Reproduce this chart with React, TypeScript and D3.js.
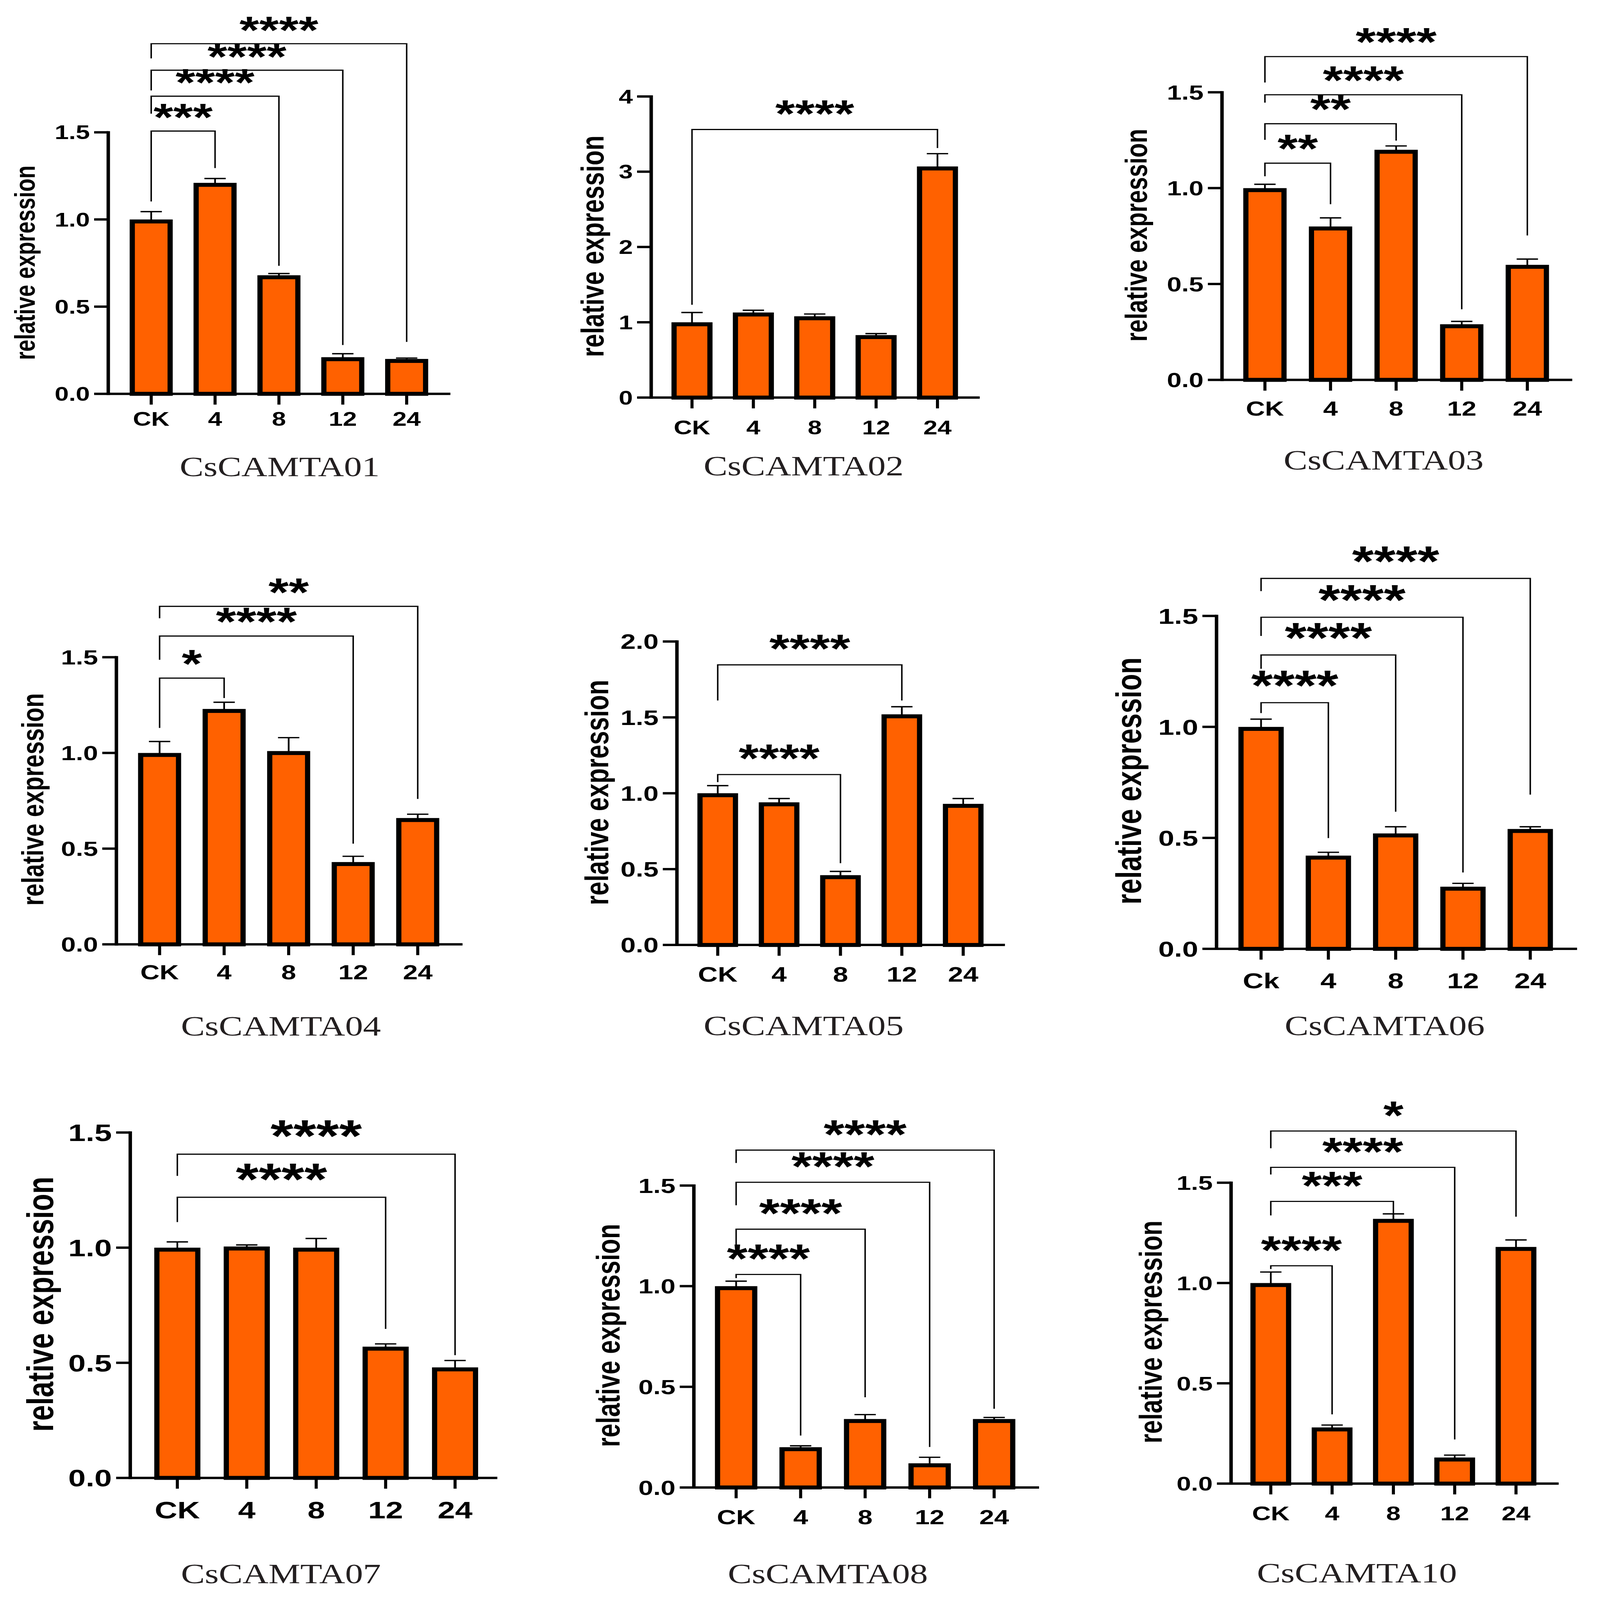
import React from 'react';
import * as d3 from 'd3';

// ---------------- DATA ----------------
const categories = ['CK', '4', '8', '12', '24'];
const categories06 = ['Ck', '4', '8', '12', '24'];

const values01 = [1.0, 1.21, 0.68, 0.21, 0.2];
const errors01 = [0.045, 0.025, 0.01, 0.02, 0.005];
const values02 = [1.0, 1.13, 1.08, 0.83, 3.07];
const errors02 = [0.13, 0.03, 0.03, 0.02, 0.17];
const values03 = [1.0, 0.8, 1.2, 0.29, 0.6];
const errors03 = [0.02, 0.045, 0.02, 0.015, 0.03];
const values04 = [1.0, 1.23, 1.01, 0.43, 0.66];
const errors04 = [0.06, 0.035, 0.07, 0.03, 0.02];
const values05 = [1.0, 0.94, 0.46, 1.52, 0.93];
const errors05 = [0.05, 0.025, 0.025, 0.05, 0.035];
const values06 = [1.0, 0.42, 0.52, 0.28, 0.54];
const errors06 = [0.035, 0.015, 0.03, 0.015, 0.01];
const values07 = [1.0, 1.005, 1.0, 0.57, 0.48];
const errors07 = [0.025, 0.007, 0.04, 0.012, 0.03];
const values08 = [1.0, 0.2, 0.34, 0.12, 0.34];
const errors08 = [0.025, 0.007, 0.022, 0.03, 0.008];
const values10 = [1.0, 0.28, 1.32, 0.13, 1.18];
const errors10 = [0.055, 0.012, 0.025, 0.012, 0.035];

const ticks15 = [0, 0.5, 1.0, 1.5];
const ticks4 = [0, 1, 2, 3, 4];
const ticks20 = [0, 0.5, 1.0, 1.5, 2.0];

// significance comparisons: CK vs target index, with label
const sigTargets01 = [1, 2, 3, 4];
const sigLabels01 = ['***', '****', '****', '****'];
const sigTargets02 = [4];
const sigLabels02 = ['****'];
const sigTargets03 = [1, 2, 3, 4];
const sigLabels03 = ['**', '**', '****', '****'];
const sigTargets04 = [1, 3, 4];
const sigLabels04 = ['*', '****', '**'];
const sigTargets05 = [2, 3];
const sigLabels05 = ['****', '****'];
const sigTargets06 = [1, 2, 3, 4];
const sigLabels06 = ['****', '****', '****', '****'];
const sigTargets07 = [3, 4];
const sigLabels07 = ['****', '****'];
const sigTargets08 = [1, 2, 3, 4];
const sigLabels08 = ['****', '****', '****', '****'];
const sigTargets10 = [1, 2, 3, 4];
const sigLabels10 = ['****', '***', '****', '*'];

const yLabel = 'relative expression';

// ---------------- LAYOUT (view units; 1200 units = page width) ----------------
const W = 4388;
const H = 5745;
const VW = 1200;
const VH = (H * VW) / W;

const ORANGE = '#ff6100';
const SANS = '"Liberation Sans", Arial, sans-serif';
const SERIF = '"Liberation Serif", "Times New Roman", serif';

type Layout = {
  axisX: number; axisEnd: number; c0: number; c4: number;
  yBase: number; yTop: number; barW: number; xLabelBase: number; tickFs: number;
  yTitleX: number; yTitleY: number; yTitleLen: number;
  titleX: number; titleBase: number; starFs: number; starOff: number;
  brackets: [number, number, number][]; // [line value, left leg end value, right leg end value]
};

type PanelSpec = {
  name: string; cats: string[]; values: number[]; errors: number[];
  ticks: number[]; fmt: (n: number) => string;
  sigTargets: number[]; sigLabels: string[]; L: Layout;
};

const f1 = d3.format('.1f');
const f0 = d3.format('d');

const panels: PanelSpec[] = [
  {
    name: 'CsCAMTA01', cats: categories, values: values01, errors: errors01, ticks: ticks15, fmt: f1,
    sigTargets: sigTargets01, sigLabels: sigLabels01,
    L: { axisX: 81.2, axisEnd: 337.8, c0: 113.4, c4: 305, yBase: 386.7, yTop: 129.9, barW: 32.3, xLabelBase: 418.2, tickFs: 19,
      yTitleX: 20.9, yTitleY: 258, yTitleLen: 191, titleX: 209.8, titleBase: 467.5, starFs: 38, starOff: 18.3,
      brackets: [[1.507, 1.103, 1.295], [1.707, 1.607, 0.734], [1.856, 1.74, 0.28], [2.008, 1.924, 0.298]] },
  },
  {
    name: 'CsCAMTA02', cats: categories, values: values02, errors: errors02, ticks: ticks4, fmt: f0,
    sigTargets: sigTargets02, sigLabels: sigLabels02,
    L: { axisX: 488.4, axisEnd: 734.8, c0: 519, c4: 703.1, yBase: 390.4, yTop: 94.7, barW: 30.8, xLabelBase: 426.4, tickFs: 19,
      yTitleX: 446.5, yTitleY: 241.8, yTitleLen: 217.6, titleX: 602.7, titleBase: 466.9, starFs: 38, starOff: 20.2,
      brackets: [[3.561, 1.232, 3.315]] },
  },
  {
    name: 'CsCAMTA03', cats: categories, values: values03, errors: errors03, ticks: ticks15, fmt: f1,
    sigTargets: sigTargets03, sigLabels: sigLabels03,
    L: { axisX: 916.5, axisEnd: 1179.2, c0: 948.7, c4: 1145.5, yBase: 373, yTop: 90.6, barW: 32.5, xLabelBase: 408, tickFs: 19.8,
      yTitleX: 854.3, yTitleY: 231, yTitleLen: 209, titleX: 1037.7, titleBase: 460.9, starFs: 39, starOff: 19.5,
      brackets: [[1.13, 1.062, 0.916], [1.336, 1.252, 1.248], [1.487, 1.446, 0.368], [1.686, 1.551, 0.753]] },
  },
  {
    name: 'CsCAMTA04', cats: categories, values: values04, errors: errors04, ticks: ticks15, fmt: f1,
    sigTargets: sigTargets04, sigLabels: sigLabels04,
    L: { axisX: 87.3, axisEnd: 346.9, c0: 119.7, c4: 313.3, yBase: 927.3, yTop: 645.4, barW: 32.3, xLabelBase: 961.8, tickFs: 20,
      yTitleX: 26.8, yTitleY: 785, yTitleLen: 208.7, titleX: 210.7, titleBase: 1016.7, starFs: 39, starOff: 19,
      brackets: [[1.391, 1.131, 1.287], [1.611, 1.487, 0.526], [1.766, 1.704, 0.76]] },
  },
  {
    name: 'CsCAMTA05', cats: categories, values: values05, errors: errors05, ticks: ticks20, fmt: f1,
    sigTargets: sigTargets05, sigLabels: sigLabels05,
    L: { axisX: 507.7, axisEnd: 753.7, c0: 538.3, c4: 722.4, yBase: 927.9, yTop: 629.9, barW: 30.5, xLabelBase: 964, tickFs: 20.5,
      yTitleX: 449.9, yTitleY: 778.2, yTitleLen: 221.3, titleX: 602.7, titleBase: 1016.4, starFs: 39, starOff: 21,
      brackets: [[1.123, 1.073, 0.539], [1.846, 1.611, 1.611]] },
  },
  {
    name: 'CsCAMTA06', cats: categories06, values: values06, errors: errors06, ticks: ticks15, fmt: f1,
    sigTargets: sigTargets06, sigLabels: sigLabels06,
    L: { axisX: 912.4, axisEnd: 1182.8, c0: 945.8, c4: 1147.7, yBase: 931.7, yTop: 604.8, barW: 34, xLabelBase: 970.4, tickFs: 21.5,
      yTitleX: 849, yTitleY: 766.8, yTitleLen: 242.7, titleX: 1038.5, titleBase: 1016.6, starFs: 42, starOff: 22.5,
      brackets: [[1.109, 1.062, 0.499], [1.324, 1.262, 0.618], [1.494, 1.41, 0.344], [1.669, 1.612, 0.695]] },
  },
  {
    name: 'CsCAMTA07', cats: categories, values: values07, errors: errors07, ticks: ticks15, fmt: f1,
    sigTargets: sigTargets07, sigLabels: sigLabels07,
    L: { axisX: 97.7, axisEnd: 373, c0: 133, c4: 341.3, yBase: 1451.2, yTop: 1112.1, barW: 34.6, xLabelBase: 1491, tickFs: 23.5,
      yTitleX: 33, yTitleY: 1280.6, yTitleLen: 250.5, titleX: 210.7, titleBase: 1554.5, starFs: 44, starOff: 23.5,
      brackets: [[1.219, 1.111, 0.647], [1.406, 1.312, 0.533]] },
  },
  {
    name: 'CsCAMTA08', cats: categories, values: values08, errors: errors08, ticks: ticks15, fmt: f1,
    sigTargets: sigTargets08, sigLabels: sigLabels08,
    L: { axisX: 520.4, axisEnd: 779.3, c0: 552.1, c4: 745.6, yBase: 1460.6, yTop: 1164.1, barW: 31.8, xLabelBase: 1496.6, tickFs: 20,
      yTitleX: 458.5, yTitleY: 1311.3, yTitleLen: 219.2, titleX: 620.9, titleBase: 1554.5, starFs: 40, starOff: 20.5,
      brackets: [[1.058, 1.04, 0.258], [1.283, 1.204, 0.448], [1.516, 1.402, 0.201], [1.676, 1.612, 0.391]] },
  },
  {
    name: 'CsCAMTA10', cats: categories, values: values10, errors: errors10, ticks: ticks15, fmt: f1,
    sigTargets: sigTargets10, sigLabels: sigLabels10,
    L: { axisX: 923.3, axisEnd: 1169, c0: 953.1, c4: 1137, yBase: 1456.8, yTop: 1161.4, barW: 30.6, xLabelBase: 1492.9, tickFs: 19.5,
      yTitleX: 865.2, yTitleY: 1307.9, yTitleLen: 218.8, titleX: 1017.7, titleBase: 1554, starFs: 39, starOff: 20.5,
      brackets: [[1.086, 1.07, 0.345], [1.407, 1.337, 1.348], [1.577, 1.541, 0.22], [1.758, 1.672, 1.331]] },
  },
];

const BAR_STROKE = 3.9;
const YAXIS_STROKE = 2.6;
const XAXIS_STROKE = 2.3;
const TICK_LEN = 10.6;
const ERR_STROKE = 1.3;
const CAP_HALF = 8;
const BRACKET_STROKE = 1.1;
const TITLE_LEN = 150;
const TITLE_FS = 27.2;
const ARIAL_BOLD_LEN_PER_EM = 9.06; // advance width of the y-title in ems

function Panel({ p }: { p: PanelSpec }) {
  const L = p.L;
  const yMax = p.ticks[p.ticks.length - 1];
  const x = d3.scalePoint<string>().domain(p.cats).range([L.c0, L.c4]);
  const y = d3.scaleLinear().domain([0, yMax]).range([L.yBase, L.yTop]);
  const inner = L.barW - BAR_STROKE;
  const yTitleFs = L.yTitleLen / ARIAL_BOLD_LEN_PER_EM;

  return (
    <g>
      {/* error bars (upper only) */}
      {p.cats.map((c, i) => {
        const cx = x(c) as number;
        const top = y(p.values[i] + p.errors[i]);
        return (
          <g key={'e' + c} stroke="#000" strokeWidth={ERR_STROKE}>
            <line x1={cx} x2={cx} y1={y(p.values[i]) + BAR_STROKE} y2={top} />
            <line x1={cx - CAP_HALF} x2={cx + CAP_HALF} y1={top} y2={top} />
          </g>
        );
      })}
      {/* bars: outer edge of outline sits on the value */}
      {p.cats.map((c, i) => {
        const cx = x(c) as number;
        const yt = y(p.values[i]) + BAR_STROKE / 2;
        return (
          <rect key={'b' + c} x={cx - inner / 2} width={inner} y={yt} height={Math.max(0, L.yBase - yt)}
            fill={ORANGE} stroke="#000" strokeWidth={BAR_STROKE} />
        );
      })}
      {/* y axis */}
      <line x1={L.axisX} x2={L.axisX} y1={L.yBase + XAXIS_STROKE / 2} y2={L.yTop - XAXIS_STROKE / 2} stroke="#000" strokeWidth={YAXIS_STROKE} />
      {p.ticks.map((t) => (
        <g key={'yt' + t}>
          <line x1={L.axisX - TICK_LEN} x2={L.axisX} y1={y(t)} y2={y(t)} stroke="#000" strokeWidth={XAXIS_STROKE} />
          <text x={L.axisX - TICK_LEN - 3.2} y={y(t)} dy="0.36em" textAnchor="end" fontFamily={SANS} fontWeight="bold" fontSize={L.tickFs}>
            {p.fmt(t)}
          </text>
        </g>
      ))}
      {/* x axis */}
      <line x1={L.axisX} x2={L.axisEnd} y1={L.yBase} y2={L.yBase} stroke="#000" strokeWidth={XAXIS_STROKE} />
      {p.cats.map((c) => (
        <g key={'xt' + c}>
          <line x1={x(c)} x2={x(c)} y1={L.yBase} y2={L.yBase + TICK_LEN} stroke="#000" strokeWidth={XAXIS_STROKE} />
          <text x={x(c)} y={L.xLabelBase} textAnchor="middle" fontFamily={SANS} fontWeight="bold" fontSize={L.tickFs}>
            {c}
          </text>
        </g>
      ))}
      {/* y title */}
      <text transform={`translate(${L.yTitleX + 0.25 * yTitleFs},${L.yTitleY}) rotate(-90)`} textAnchor="middle"
        fontFamily={SANS} fontWeight="bold" fontSize={yTitleFs} textLength={L.yTitleLen} lengthAdjust="spacingAndGlyphs">
        {yLabel}
      </text>
      {/* significance brackets */}
      {p.sigTargets.map((ti, k) => {
        const [lineV, leftV, rightV] = L.brackets[k];
        const xl = x(p.cats[0]) as number;
        const xr = x(p.cats[ti]) as number;
        const yl = y(lineV);
        return (
          <g key={'s' + k}>
            <path d={`M${xl},${y(leftV)}V${yl}H${xr}V${y(rightV)}`} fill="none" stroke="#000" strokeWidth={BRACKET_STROKE} />
            <text x={(xl + xr) / 2} y={yl - L.starOff + 0.47 * L.starFs} textAnchor="middle" fontFamily={SANS} fontWeight="bold" fontSize={L.starFs}>
              {p.sigLabels[k]}
            </text>
          </g>
        );
      })}
      {/* gene title */}
      <text x={L.titleX} y={L.titleBase} textAnchor="middle" fontFamily={SERIF} fontSize={TITLE_FS} fill="#231f20"
        textLength={TITLE_LEN} lengthAdjust="spacingAndGlyphs">
        {p.name}
      </text>
    </g>
  );
}

export default function App() {
  // The figure keeps the 4388×5745 frame of the reference and fills the browser window.
  return (
    <svg width={W} height={H} viewBox={`0 0 ${VW} ${VH}`} preserveAspectRatio="none"
      style={{ position: 'absolute', left: 0, top: 0, width: '100vw', height: '100vh', display: 'block' }}
      xmlns="http://www.w3.org/2000/svg">
      <rect x={0} y={0} width={VW} height={VH} fill="#fff" />
      {panels.map((p) => (
        <Panel key={p.name} p={p} />
      ))}
    </svg>
  );
}
